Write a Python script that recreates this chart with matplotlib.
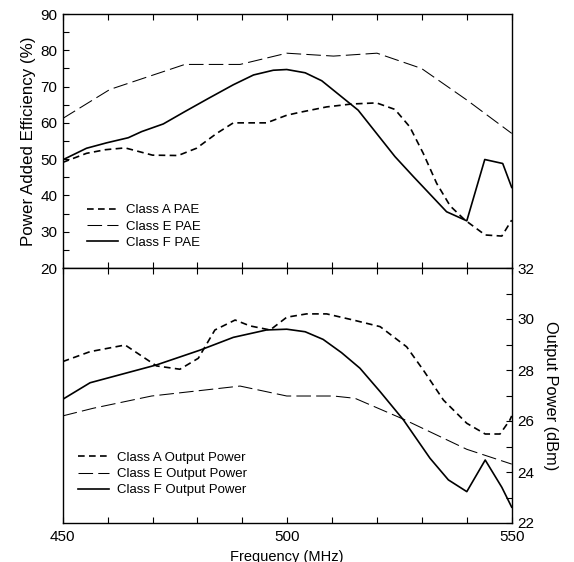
import matplotlib
matplotlib.use("Agg")
import matplotlib.pyplot as plt
from matplotlib.ticker import MultipleLocator

plt.rcParams['font.family'] = ['Liberation Sans', 'DejaVu Sans']

# ---- PAE data (top panel) ----
fA_pae = [450, 455.3, 459.5, 463.9, 470, 475.7, 479.8, 484.3, 488, 495.4, 499.9, 502.8,
          508.8, 514.4, 519.9, 524, 527.3, 530.3, 533.3, 536.3, 539.6, 544.1, 547.8, 550]
pae_A = [49.1, 51.6, 52.6, 53.1, 51.1, 51.0, 53.0, 57.1, 60.0, 60.0, 62.1, 62.9,
         64.4, 65.2, 65.5, 63.7, 58.9, 51.6, 43.3, 37.1, 33.2, 29.1, 28.8, 33.2]

fE_pae = [450, 460.5, 477.2, 489.5, 499.9, 510.3, 520, 529.9, 540, 550]
pae_E = [61.2, 69.2, 76.1, 76.1, 79.2, 78.4, 79.2, 75.0, 66.3, 57.1]

fF_pae = [450, 455.3, 459.8, 464.6, 467.6, 472.4, 477.2, 482.4, 488, 492.5, 496.9, 499.9,
          504, 507.7, 515.8, 524, 528.1, 535.5, 540, 544, 548, 550]
pae_F = [49.8, 53.0, 54.5, 55.9, 57.6, 59.7, 63.1, 66.7, 70.5, 73.2, 74.5, 74.7,
         73.8, 71.6, 63.5, 50.7, 45.2, 35.5, 33.0, 49.9, 48.8, 42.2]

# ---- Output power data (bottom panel) ----
fA_op = [450, 456.1, 463.9, 470.9, 476.1, 480.2, 483.9, 488.4, 491.7, 496.2, 499.9, 504.3,
         508.8, 514.7, 520.7, 526.6, 530.3, 534.8, 540, 544.1, 547.4, 549.6, 550]
op_A = [28.33, 28.72, 28.98, 28.16, 28.03, 28.46, 29.57, 29.96, 29.73, 29.57, 30.07, 30.2,
        30.2, 29.96, 29.7, 28.91, 28.0, 26.82, 25.91, 25.49, 25.49, 26.04, 26.2]

fE_op = [450, 456.8, 469.8, 489.5, 499.9, 510.3, 515.1, 525.9, 540, 550]
op_E = [26.2, 26.5, 26.98, 27.37, 26.98, 26.98, 26.89, 26.07, 24.89, 24.31]

fF_op = [450, 456.1, 470.9, 480.6, 488, 495.4, 499.9, 504, 508, 512.1, 516.2, 520.7,
         525.9, 531.8, 535.9, 540, 544.1, 547.8, 550]
op_F = [26.85, 27.5, 28.2, 28.78, 29.28, 29.57, 29.6, 29.5, 29.2, 28.68, 28.07, 27.15,
        26.04, 24.54, 23.69, 23.23, 24.47, 23.4, 22.62]

x_ticklabels = ['450', '500', '550']

W, H = 574, 562
fig = plt.figure(figsize=(W / 100, H / 100), dpi=100)
left = 62.7 / W
width = (511.7 - 62.7) / W
ax1 = fig.add_axes([left, (H - 268) / H, width, (268 - 14) / H])
ax2 = fig.add_axes([left, (H - 523) / H, width, (523 - 268) / H])

styA = dict(color='black', lw=1.2, linestyle=(0, (4.0, 2.6)))
styE = dict(color='black', lw=0.75, linestyle=(0, (14, 5)))
styF = dict(color='black', lw=1.2, linestyle='-')

ax1.plot(fA_pae, pae_A, label='Class A PAE', **styA)
ax1.plot(fE_pae, pae_E, label='Class E PAE', **styE)
ax1.plot(fF_pae, pae_F, label='Class F PAE', **styF)

ax2.plot(fA_op, op_A, label='Class A Output Power', **styA)
ax2.plot(fE_op, op_E, label='Class E Output Power', **styE)
ax2.plot(fF_op, op_F, label='Class F Output Power', **styF)

for ax in (ax1, ax2):
    ax.set_xlim(450, 550)
    ax.xaxis.set_major_locator(MultipleLocator(10))
    for s in ax.spines.values():
        s.set_linewidth(1.0)

# top panel
ax1.set_ylim(20, 90)
ax1.yaxis.set_major_locator(MultipleLocator(10))
ax1.yaxis.set_minor_locator(MultipleLocator(5))
ax1.tick_params(axis='y', which='both', direction='in', length=4, left=True, right=False,
                labelsize=11, width=0.8, pad=4)
ax1.tick_params(axis='x', which='both', direction='in', length=4, top=True, bottom=True,
                labelbottom=False, width=0.8)
ax1.set_ylabel('Power Added Efficiency (%)', fontsize=12.2, labelpad=3)

# bottom panel
ax2.set_ylim(22, 32)
ax2.yaxis.tick_right()
ax2.yaxis.set_label_position('right')
ax2.yaxis.set_major_locator(MultipleLocator(2))
ax2.yaxis.set_minor_locator(MultipleLocator(1))
ax2.tick_params(axis='y', which='both', direction='in', length=4, left=False, right=True,
                labelsize=11, width=0.8, pad=4)
ax2.tick_params(axis='x', which='both', direction='in', length=4, top=True, bottom=True,
                labelsize=11, width=0.8, pad=5)
ax2.set_xticks([450, 460, 470, 480, 490, 500, 510, 520, 530, 540, 550])
ax2.set_xticklabels([x_ticklabels[0], '', '', '', '', x_ticklabels[1], '', '', '', '', x_ticklabels[2]])
ax2.set_ylabel('Output Power (dBm)', fontsize=11.8, rotation=270, labelpad=17)
ax2.set_xlabel('Frequency (MHz)', fontsize=10.5, labelpad=4)

leg_kw = dict(frameon=False, fontsize=9.5, handlelength=2.35, handletextpad=0.6,
              labelspacing=0.3, borderaxespad=0)
ax1.legend(loc='upper left', bbox_to_anchor=(0.043, 0.272), **leg_kw)
ax2.legend(loc='upper left', bbox_to_anchor=(0.022, 0.30), **leg_kw)

fig.savefig('out.png', dpi=100)
